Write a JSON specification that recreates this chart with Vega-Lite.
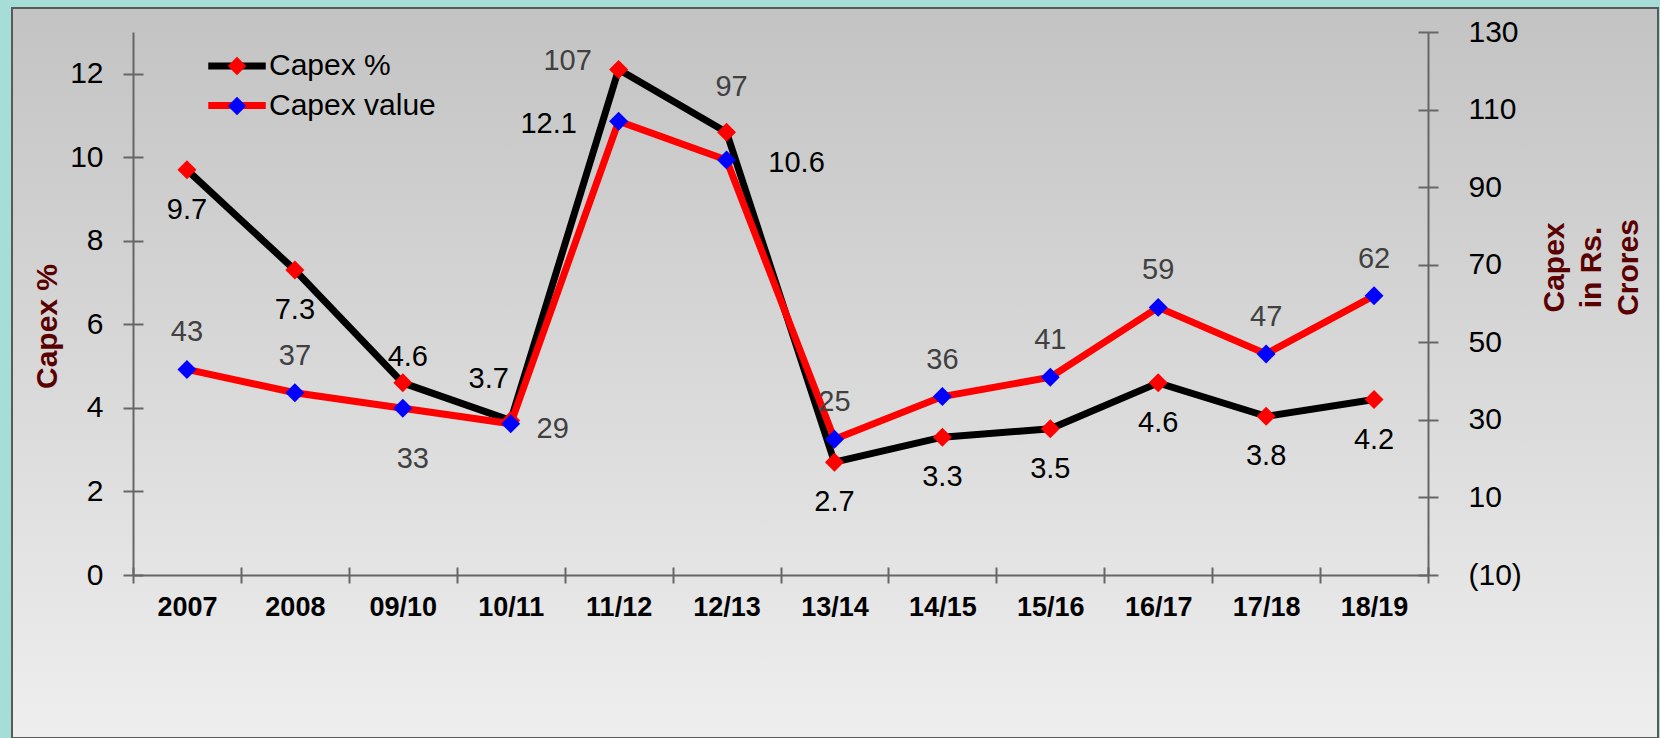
{
  "$schema": "https://vega.github.io/schema/vega-lite/v6.json",
  "width": 1646,
  "height": 730,
  "autosize": {"type": "none"},
  "padding": {"left": 12, "top": 8, "right": 2, "bottom": 0},
  "background": "#a6ddd7",
  "view": {
    "fill": {"gradient": "linear", "x1": 0, "y1": 0, "x2": 0, "y2": 1, "stops": [{"offset": 0, "color": "#c3c3c3"}, {"offset": 1, "color": "#eeeeee"}]},
    "stroke": "#5a5a5a",
    "strokeWidth": 2
  },
  "config": {
    "font": "Liberation Sans",
    "axis": {"grid": false, "domainColor": "#666666", "domainWidth": 2, "tickColor": "#666666", "tickWidth": 2, "labelFont": "Liberation Sans", "labelColor": "#000000", "titleFont": "Liberation Sans"},
    "legend": {"labelFont": "Liberation Sans", "labelLimit": 400}
  },
  "data": {
    "values": [
      {"year": "2007", "series": "Capex %", "v": 9.7},
      {"year": "2008", "series": "Capex %", "v": 7.3},
      {"year": "09/10", "series": "Capex %", "v": 4.6},
      {"year": "10/11", "series": "Capex %", "v": 3.7},
      {"year": "11/12", "series": "Capex %", "v": 12.1},
      {"year": "12/13", "series": "Capex %", "v": 10.6},
      {"year": "13/14", "series": "Capex %", "v": 2.7},
      {"year": "14/15", "series": "Capex %", "v": 3.3},
      {"year": "15/16", "series": "Capex %", "v": 3.5},
      {"year": "16/17", "series": "Capex %", "v": 4.6},
      {"year": "17/18", "series": "Capex %", "v": 3.8},
      {"year": "18/19", "series": "Capex %", "v": 4.2},
      {"year": "2007", "series": "Capex value", "v": 43},
      {"year": "2008", "series": "Capex value", "v": 37},
      {"year": "09/10", "series": "Capex value", "v": 33},
      {"year": "10/11", "series": "Capex value", "v": 29},
      {"year": "11/12", "series": "Capex value", "v": 107},
      {"year": "12/13", "series": "Capex value", "v": 97},
      {"year": "13/14", "series": "Capex value", "v": 25},
      {"year": "14/15", "series": "Capex value", "v": 36},
      {"year": "15/16", "series": "Capex value", "v": 41},
      {"year": "16/17", "series": "Capex value", "v": 59},
      {"year": "17/18", "series": "Capex value", "v": 47},
      {"year": "18/19", "series": "Capex value", "v": 62}
    ]
  },
  "encoding": {
    "x": {
      "field": "year",
      "type": "nominal",
      "scale": {"type": "band", "domain": ["2007", "2008", "09/10", "10/11", "11/12", "12/13", "13/14", "14/15", "15/16", "16/17", "17/18", "18/19"], "range": [121, 1416], "paddingInner": 0, "paddingOuter": 0},
      "axis": {"title": null, "orient": "bottom", "offset": -163, "tickBand": "extent", "tickSize": 8, "labelPadding": 11, "labelAngle": 0, "labelFontSize": 27, "labelFontWeight": "bold", "labelOverlap": false}
    }
  },
  "layer": [
    {
      "transform": [{"filter": "datum.series === 'Capex %'"}],
      "encoding": {
        "y": {"field": "v", "type": "quantitative", "scale": {"domain": [0, 13], "range": [567, 24], "nice": false, "zero": false}}
      },
      "layer": [
        {
          "mark": {"type": "line", "strokeWidth": 7},
          "encoding": {
            "y": {"field": "v", "type": "quantitative", "axis": {"orient": "left", "offset": -121, "values": [0, 2, 4, 6, 8, 10, 12], "tickSize": -10, "labels": false, "domain": false, "title": null}},
            "stroke": {"field": "series", "type": "nominal", "scale": {"domain": ["Capex %", "Capex value"], "range": ["#000000", "#ff0000"]},
              "legend": {"orient": "none", "legendX": 210, "legendY": 43, "title": null, "padding": 0, "symbolType": "M-2.5,0H2.5", "symbolSize": 529, "symbolStrokeWidth": 7, "labelFontSize": 30, "labelColor": "#000000", "labelOffset": 17, "rowPadding": 9.5}}
          }
        },
        {
          "encoding": {
            "y": {"field": "v", "type": "quantitative", "axis": {"orient": "left", "offset": -121, "values": [0, 2, 4, 6, 8, 10, 12], "tickSize": 10, "labelPadding": 20, "labelFontSize": 30, "title": "Capex %", "titleFontSize": 30, "titleFontWeight": "bold", "titleColor": "#5a0000", "titleAngle": 270, "titleX": -86, "titleY": 318, "titleAlign": "center", "titleBaseline": "middle"}}
          },
          "layer": [
            {
              "mark": {"type": "point", "shape": "diamond", "filled": true, "size": 360, "opacity": 1, "strokeWidth": 0},
              "encoding": {
                "fill": {"field": "series", "type": "nominal", "scale": {"domain": ["Capex value", "Capex %"], "range": ["#0000ff", "#ff0000"]},
                  "legend": {"orient": "none", "legendX": 210, "legendY": 43, "title": null, "padding": 0, "values": ["Capex %", "Capex value"], "symbolType": "M0,-0.8L0.8,0L0,0.8L-0.8,0Z", "symbolSize": 529, "symbolStrokeWidth": 7, "symbolStrokeColor": "transparent", "symbolOpacity": 1, "labelFontSize": 30, "labelColor": "transparent", "labelOffset": 17, "rowPadding": -8, "zindex": 1}}
              }
            },
            {
              "transform": [{"filter": {"field": "year", "oneOf": ["2007", "2008", "13/14", "14/15", "15/16", "16/17", "17/18", "18/19"]}}],
              "mark": {"type": "text", "dy": 40, "fontSize": 29, "fill": "#000000", "baseline": "middle"},
              "encoding": {"text": {"field": "v", "type": "nominal"}}
            },
            {
              "transform": [{"filter": "datum.year === '09/10'"}],
              "mark": {"type": "text", "dx": 5, "dy": -26, "fontSize": 29, "fill": "#000000", "baseline": "middle"},
              "encoding": {"text": {"field": "v", "type": "nominal"}}
            },
            {
              "transform": [{"filter": "datum.year === '10/11'"}],
              "mark": {"type": "text", "dx": -22, "dy": -41, "fontSize": 29, "fill": "#000000", "baseline": "middle"},
              "encoding": {"text": {"field": "v", "type": "nominal"}}
            },
            {
              "transform": [{"filter": "datum.year === '11/12'"}],
              "mark": {"type": "text", "dx": -70, "dy": 54, "fontSize": 29, "fill": "#000000", "baseline": "middle"},
              "encoding": {"text": {"field": "v", "type": "nominal"}}
            },
            {
              "transform": [{"filter": "datum.year === '12/13'"}],
              "mark": {"type": "text", "dx": 70, "dy": 31, "fontSize": 29, "fill": "#000000", "baseline": "middle"},
              "encoding": {"text": {"field": "v", "type": "nominal"}}
            }
          ]
        }
      ],
      "resolve": {"axis": {"y": "independent"}}
    },
    {
      "transform": [{"filter": "datum.series === 'Capex value'"}],
      "encoding": {
        "x": {
          "field": "year",
          "type": "nominal",
          "scale": {"type": "band", "domain": ["2007", "2008", "09/10", "10/11", "11/12", "12/13", "13/14", "14/15", "15/16", "16/17", "17/18", "18/19"], "range": [121, 1416], "paddingInner": 0, "paddingOuter": 0},
          "axis": {"title": null, "orient": "bottom", "offset": -163, "tickBand": "extent", "tickSize": -8, "labels": false, "domain": false}
        },
        "y": {"field": "v", "type": "quantitative", "scale": {"domain": [-10, 130], "range": [567, 24], "nice": false, "zero": false}}
      },
      "layer": [
        {
          "mark": {"type": "line", "strokeWidth": 7},
          "encoding": {
            "y": {"field": "v", "type": "quantitative", "axis": {"orient": "right", "offset": -230, "values": [-10, 10, 30, 50, 70, 90, 110, 130], "tickSize": -10, "labels": false, "domain": false, "title": null}},
            "stroke": {"field": "series", "type": "nominal", "scale": {"domain": ["Capex %", "Capex value"], "range": ["#000000", "#ff0000"]},
              "legend": {"orient": "none", "legendX": 210, "legendY": 43, "title": null, "padding": 0, "symbolType": "M-2.5,0H2.5", "symbolSize": 529, "symbolStrokeWidth": 7, "labelFontSize": 30, "labelColor": "#000000", "labelOffset": 17, "rowPadding": 9.5}}
          }
        },
        {
          "encoding": {
            "y": {"field": "v", "type": "quantitative", "axis": {"orient": "right", "offset": -230, "values": [-10, 10, 30, 50, 70, 90, 110, 130], "labelExpr": "datum.value < 0 ? '(' + (-datum.value) + ')' : datum.label", "tickSize": 10, "labelPadding": 30, "labelFontSize": 30, "title": ["Capex", "in Rs.", "Crores"], "titleFontSize": 30, "titleFontWeight": "bold", "titleColor": "#5a0000", "titleAngle": 270, "titleX": 126, "titleY": 259, "titleAlign": "center", "titleBaseline": "middle", "titleLineHeight": 37}}
          },
          "layer": [
            {
              "mark": {"type": "point", "shape": "diamond", "filled": true, "size": 360, "opacity": 1, "strokeWidth": 0},
              "encoding": {
                "fill": {"field": "series", "type": "nominal", "scale": {"domain": ["Capex value", "Capex %"], "range": ["#0000ff", "#ff0000"]},
                  "legend": {"orient": "none", "legendX": 210, "legendY": 43, "title": null, "padding": 0, "values": ["Capex %", "Capex value"], "symbolType": "M0,-0.8L0.8,0L0,0.8L-0.8,0Z", "symbolSize": 529, "symbolStrokeWidth": 7, "symbolStrokeColor": "transparent", "symbolOpacity": 1, "labelFontSize": 30, "labelColor": "transparent", "labelOffset": 17, "rowPadding": -8, "zindex": 1}}
              }
            },
            {
              "transform": [{"filter": {"field": "year", "oneOf": ["2007", "2008", "13/14", "14/15", "15/16", "16/17", "17/18", "18/19"]}}],
              "mark": {"type": "text", "dy": -37, "fontSize": 29, "fill": "#404040", "baseline": "middle"},
              "encoding": {"text": {"field": "v", "type": "nominal"}}
            },
            {
              "transform": [{"filter": "datum.year === '09/10'"}],
              "mark": {"type": "text", "dx": 10, "dy": 51, "fontSize": 29, "fill": "#404040", "baseline": "middle"},
              "encoding": {"text": {"field": "v", "type": "nominal"}}
            },
            {
              "transform": [{"filter": "datum.year === '10/11'"}],
              "mark": {"type": "text", "dx": 42, "dy": 5, "fontSize": 29, "fill": "#404040", "baseline": "middle"},
              "encoding": {"text": {"field": "v", "type": "nominal"}}
            },
            {
              "transform": [{"filter": "datum.year === '11/12'"}],
              "mark": {"type": "text", "dx": -51, "dy": -60, "fontSize": 29, "fill": "#404040", "baseline": "middle"},
              "encoding": {"text": {"field": "v", "type": "nominal"}}
            },
            {
              "transform": [{"filter": "datum.year === '12/13'"}],
              "mark": {"type": "text", "dx": 5, "dy": -73, "fontSize": 29, "fill": "#404040", "baseline": "middle"},
              "encoding": {"text": {"field": "v", "type": "nominal"}}
            }
          ]
        }
      ],
      "resolve": {"axis": {"y": "independent"}}
    }
  ],
  "resolve": {"scale": {"y": "independent"}, "axis": {"x": "independent"}}
}
